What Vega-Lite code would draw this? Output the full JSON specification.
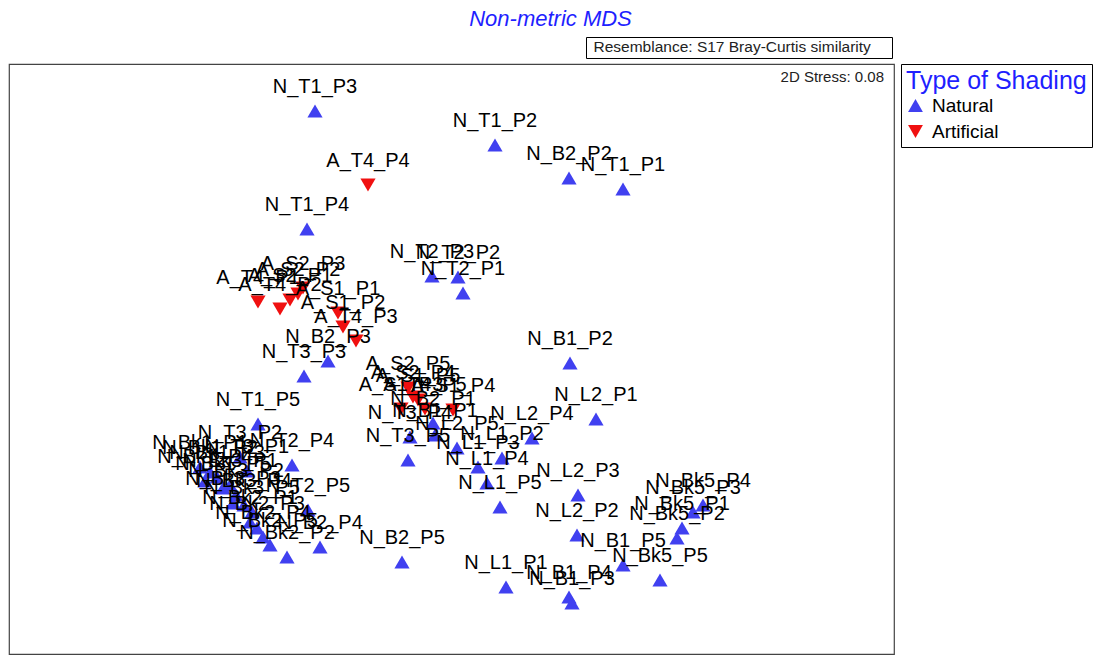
{
  "$schema": "https://vega.github.io/schema/vega-lite/v6.json",
  "autosize": {"type": "none"},
  "padding": {"left": 9, "top": 64, "right": 200, "bottom": 1},
  "width": 885,
  "height": 590,
  "title": {"text": "Non-metric MDS", "font": "Liberation Sans", "fontStyle": "italic", "fontWeight": "normal", "fontSize": 22, "color": "#1f1fff", "anchor": "middle", "frame": "group", "dx": 99, "offset": 6},
  "config": {"view": {"stroke": "#444444", "strokeWidth": 1.2}, "font": "Liberation Sans"},
  "layer": [
    {
      "data": {"values": [
        {"label": "N_T1_P1", "type": "Natural", "x": 623, "y": 189},
        {"label": "N_T1_P2", "type": "Natural", "x": 495, "y": 145},
        {"label": "N_T1_P3", "type": "Natural", "x": 315, "y": 111},
        {"label": "N_T1_P4", "type": "Natural", "x": 307, "y": 229},
        {"label": "N_T1_P5", "type": "Natural", "x": 258, "y": 424},
        {"label": "N_T2_P1", "type": "Natural", "x": 463, "y": 293},
        {"label": "N_T2_P2", "type": "Natural", "x": 458, "y": 277},
        {"label": "N_T2_P3", "type": "Natural", "x": 432, "y": 276},
        {"label": "N_T2_P4", "type": "Natural", "x": 292, "y": 465},
        {"label": "N_T2_P5", "type": "Natural", "x": 308, "y": 510},
        {"label": "N_T3_P1", "type": "Natural", "x": 247, "y": 471},
        {"label": "N_T3_P2", "type": "Natural", "x": 240, "y": 457},
        {"label": "N_T3_P3", "type": "Natural", "x": 304, "y": 376},
        {"label": "N_T3_P4", "type": "Natural", "x": 410, "y": 437},
        {"label": "N_T3_P5", "type": "Natural", "x": 408, "y": 460},
        {"label": "N_B1_P1", "type": "Natural", "x": 435, "y": 435},
        {"label": "N_B1_P2", "type": "Natural", "x": 570, "y": 363},
        {"label": "N_B1_P3", "type": "Natural", "x": 572, "y": 603},
        {"label": "N_B1_P4", "type": "Natural", "x": 569, "y": 597},
        {"label": "N_B1_P5", "type": "Natural", "x": 623, "y": 565},
        {"label": "N_B2_P1", "type": "Natural", "x": 433, "y": 423},
        {"label": "N_B2_P2", "type": "Natural", "x": 569, "y": 178},
        {"label": "N_B2_P3", "type": "Natural", "x": 328, "y": 361},
        {"label": "N_B2_P4", "type": "Natural", "x": 320, "y": 547},
        {"label": "N_B2_P5", "type": "Natural", "x": 402, "y": 562},
        {"label": "N_L1_P1", "type": "Natural", "x": 506, "y": 587},
        {"label": "N_L1_P2", "type": "Natural", "x": 502, "y": 458},
        {"label": "N_L1_P3", "type": "Natural", "x": 478, "y": 467},
        {"label": "N_L1_P4", "type": "Natural", "x": 487, "y": 483},
        {"label": "N_L1_P5", "type": "Natural", "x": 500, "y": 507},
        {"label": "N_L2_P1", "type": "Natural", "x": 596, "y": 419},
        {"label": "N_L2_P2", "type": "Natural", "x": 577, "y": 535},
        {"label": "N_L2_P3", "type": "Natural", "x": 578, "y": 495},
        {"label": "N_L2_P4", "type": "Natural", "x": 532, "y": 438},
        {"label": "N_L2_P5", "type": "Natural", "x": 457, "y": 448},
        {"label": "N_Bk5_P1", "type": "Natural", "x": 682, "y": 528},
        {"label": "N_Bk5_P2", "type": "Natural", "x": 677, "y": 538},
        {"label": "N_Bk5_P3", "type": "Natural", "x": 693, "y": 512},
        {"label": "N_Bk5_P4", "type": "Natural", "x": 703, "y": 505},
        {"label": "N_Bk5_P5", "type": "Natural", "x": 660, "y": 580},
        {"label": "N_Bk1_P1", "type": "Natural", "x": 200, "y": 467},
        {"label": "N_Bk1_P2", "type": "Natural", "x": 210, "y": 472},
        {"label": "N_Bk1_P3", "type": "Natural", "x": 217, "y": 477},
        {"label": "N_Bk1_P4", "type": "Natural", "x": 205, "y": 481},
        {"label": "N_Bk1_P5", "type": "Natural", "x": 223, "y": 488},
        {"label": "N_Bk3_P1", "type": "Natural", "x": 230, "y": 485},
        {"label": "N_Bk3_P2", "type": "Natural", "x": 236, "y": 495},
        {"label": "N_Bk3_P3", "type": "Natural", "x": 233, "y": 503},
        {"label": "N_Bk3_P4", "type": "Natural", "x": 244, "y": 505},
        {"label": "N_Bk3_P5", "type": "Natural", "x": 252, "y": 512},
        {"label": "N_Bk2_P1", "type": "Natural", "x": 250, "y": 522},
        {"label": "N_Bk2_P2", "type": "Natural", "x": 287, "y": 557},
        {"label": "N_Bk2_P3", "type": "Natural", "x": 257, "y": 528},
        {"label": "N_Bk2_P4", "type": "Natural", "x": 263, "y": 537},
        {"label": "N_Bk2_P5", "type": "Natural", "x": 270, "y": 545},
        {"label": "A_T4_P1", "type": "Artificial", "x": 258, "y": 302},
        {"label": "A_T4_P2", "type": "Artificial", "x": 280, "y": 309},
        {"label": "A_T4_P3", "type": "Artificial", "x": 356, "y": 341},
        {"label": "A_T4_P4", "type": "Artificial", "x": 368, "y": 185},
        {"label": "A_T4_P5", "type": "Artificial", "x": 425, "y": 409},
        {"label": "A_S1_P1", "type": "Artificial", "x": 338, "y": 313},
        {"label": "A_S1_P2", "type": "Artificial", "x": 343, "y": 327},
        {"label": "A_S1_P3", "type": "Artificial", "x": 401, "y": 409},
        {"label": "A_S1_P4", "type": "Artificial", "x": 453, "y": 410},
        {"label": "A_S1_P5", "type": "Artificial", "x": 418, "y": 400},
        {"label": "A_S2_P1", "type": "Artificial", "x": 290, "y": 300},
        {"label": "A_S2_P2", "type": "Artificial", "x": 298, "y": 294},
        {"label": "A_S2_P3", "type": "Artificial", "x": 303, "y": 288},
        {"label": "A_S2_P4", "type": "Artificial", "x": 413, "y": 397},
        {"label": "A_S2_P5", "type": "Artificial", "x": 408, "y": 388}
      ]},
      "layer": [
        {
          "mark": {"type": "point", "filled": true, "size": 230, "opacity": 1},
          "encoding": {
            "x": {"field": "x", "type": "quantitative", "scale": {"domain": [9, 894], "nice": false, "zero": false}, "axis": null},
            "y": {"field": "y", "type": "quantitative", "scale": {"domain": [654, 64], "nice": false, "zero": false}, "axis": null},
            "shape": {"field": "type", "type": "nominal", "scale": {"domain": ["Natural", "Artificial"], "range": ["triangle-up", "triangle-down"]},
              "legend": {"title": "Type of Shading", "orient": "none", "legendX": 892, "legendY": 0, "strokeColor": "black", "padding": 5, "titleFontSize": 25, "titleLimit": 400, "titleColor": "#1f1fff", "titleFontWeight": "normal", "titleFont": "Liberation Sans", "labelFont": "Liberation Sans", "labelFontSize": 19, "labelColor": "black", "symbolSize": 220, "rowPadding": 6, "labelOffset": 7, "titlePadding": 2, "symbolStrokeWidth": 0}},
            "color": {"field": "type", "type": "nominal", "scale": {"domain": ["Natural", "Artificial"], "range": ["#4040f0", "#f01010"]},
              "legend": {"title": "Type of Shading", "orient": "none", "legendX": 892, "legendY": 0, "strokeColor": "black", "padding": 5, "titleFontSize": 25, "titleLimit": 400, "titleColor": "#1f1fff", "titleFontWeight": "normal", "titleFont": "Liberation Sans", "labelFont": "Liberation Sans", "labelFontSize": 19, "labelColor": "black", "symbolSize": 220, "rowPadding": 6, "labelOffset": 7, "titlePadding": 2, "symbolStrokeWidth": 0}}
          }
        },
        {
          "mark": {"type": "text", "dy": -24, "fontSize": 20, "color": "black", "font": "Liberation Sans"},
          "encoding": {
            "x": {"field": "x", "type": "quantitative", "axis": null},
            "y": {"field": "y", "type": "quantitative", "axis": null},
            "text": {"field": "label"}
          }
        }
      ]
    },
    {
      "data": {"values": [{"note": "Resemblance: S17 Bray-Curtis similarity", "stress": "2D Stress: 0.08", "sx": 884, "sy": 77}]},
      "mark": {"type": "text", "align": "right", "fontSize": 15, "color": "#222222", "font": "Liberation Sans"},
      "encoding": {
        "x": {"field": "sx", "type": "quantitative", "axis": null},
        "y": {"field": "sy", "type": "quantitative", "axis": null},
        "text": {"field": "stress"},
        "opacity": {"field": "note", "type": "nominal", "scale": {"range": [1]},
          "legend": {"title": null, "orient": "none", "legendX": 577, "legendY": -27, "strokeColor": "black", "padding": 2, "symbolSize": 1, "symbolOpacity": 0, "symbolFillColor": "transparent", "symbolStrokeColor": "transparent", "symbolStrokeWidth": 0, "labelOffset": -10, "labelFontSize": 15.5, "labelFont": "Liberation Sans", "labelColor": "#222222", "labelLimit": 500, "labelExpr": "datum.label + '\u2003\u2009\u200b'"}}
      }
    }
  ]
}
